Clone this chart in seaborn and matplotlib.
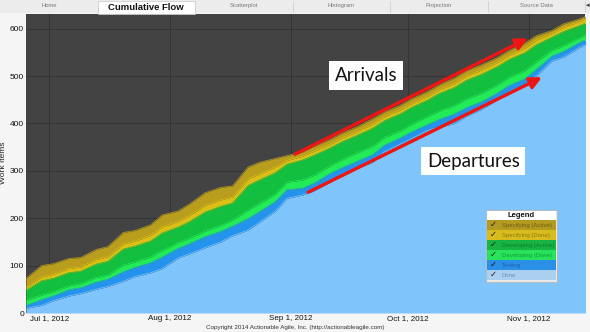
import numpy as np
import pandas as pd
import matplotlib
matplotlib.use("Agg")
import matplotlib.pyplot as plt
import matplotlib.dates as mdates
from matplotlib.patches import Rectangle
import seaborn as sns

# ---------------- data ----------------
dates = pd.to_datetime([
    "2012-06-25", "2012-06-29", "2012-07-02", "2012-07-06", "2012-07-09", "2012-07-13",
    "2012-07-16", "2012-07-20", "2012-07-23", "2012-07-27", "2012-07-30", "2012-08-03",
    "2012-08-06", "2012-08-10", "2012-08-14", "2012-08-17", "2012-08-21", "2012-08-24",
    "2012-08-28", "2012-08-31", "2012-09-04", "2012-09-07", "2012-09-11", "2012-09-14",
    "2012-09-18", "2012-09-22", "2012-09-25", "2012-09-29", "2012-10-02", "2012-10-06",
    "2012-10-09", "2012-10-13", "2012-10-16", "2012-10-20", "2012-10-24", "2012-10-27",
    "2012-10-31", "2012-11-03", "2012-11-07", "2012-11-10", "2012-11-14", "2012-11-16"])

done = [10, 16, 26, 36, 41, 50, 56, 67, 77, 85, 94, 116, 125, 138, 150, 163, 175, 192, 215, 242,
        249, 258, 276, 290, 305, 318, 340, 356, 368, 385, 392, 400, 415, 430, 450, 465, 480, 500,
        532, 540, 560, 568]
testing = [6, 12, 10, 13, 12, 15, 15, 20, 19, 21, 24, 20, 21, 23, 22, 20, 24, 22, 20, 18,
           14, 16, 18, 16, 15, 16, 14, 13, 14, 12, 16, 20, 18, 16, 14, 15, 14, 14, 10, 12, 10, 10]
dev_done = [10, 10, 9, 8, 9, 10, 9, 14, 12, 12, 14, 12, 12, 12, 13, 13, 18, 17, 16, 16,
            18, 17, 16, 17, 18, 18, 16, 15, 16, 17, 18, 18, 18, 18, 17, 17, 17, 16, 12, 12, 10, 10]
dev_active = [22, 30, 28, 28, 26, 28, 29, 34, 33, 34, 37, 33, 35, 40, 40, 36, 52, 50, 45, 38,
              42, 42, 38, 38, 37, 38, 36, 36, 36, 35, 37, 38, 40, 40, 39, 38, 38, 36, 28, 30, 26, 25]
spec_done = [6, 8, 9, 9, 9, 10, 10, 11, 11, 12, 13, 12, 13, 14, 14, 13, 14, 13, 12, 8,
             8, 9, 8, 8, 8, 9, 8, 8, 8, 8, 8, 9, 9, 9, 9, 9, 10, 10, 8, 9, 9, 10]
spec_active = [19, 24, 22, 21, 20, 21, 21, 24, 22, 22, 25, 22, 24, 27, 26, 23, 25, 24, 18, 10,
               9, 10, 10, 10, 10, 11, 10, 10, 10, 10, 10, 11, 11, 11, 10, 10, 10, 9, 6, 7, 5, 4]

states = ["Done", "Testing", "Developing (Done)", "Developing (Active)",
          "Specifying (Done)", "Specifying (Active)"]
colors = ["#80c4fc", "#2493ee", "#22ec55", "#12bf3e", "#dcbf14", "#b89e1c"]
legend_bg = ["#aacfef", "#2b8fe6", "#27e25a", "#17b444", "#d8bc1e", "#b39a20"]
legend_fg = ["#6f8fb0", "#1a64b0", "#10a032", "#0a7f28", "#8c7a10", "#6f600e"]

tabs = ["Home", "Cumulative Flow", "Scatterplot", "Histogram", "Projection", "Source Data"]

# ---------------- figure ----------------
W, H = 590, 332
sns.set_style("dark")
plt.rcParams["font.family"] = ["Liberation Sans", "DejaVu Sans"]
fig = plt.figure(figsize=(W / 100, H / 100), dpi=100, facecolor="#f5f5f5")


def fx(px):
    return px / W


def fy(py):
    return 1 - py / H


ax = fig.add_axes([fx(26), fy(313), fx(585) - fx(26), fy(13.5) - fy(313)])
ax.set_facecolor("#434343")

df = pd.DataFrame({"date": dates, "Done": done, "Testing": testing,
                   "Developing (Done)": dev_done, "Developing (Active)": dev_active,
                   "Specifying (Done)": spec_done, "Specifying (Active)": spec_active})
cum = df[states].cumsum(axis=1)
lower = np.zeros(len(df))
for st, c in zip(states, colors):
    upper = cum[st].values
    ax.fill_between(df["date"], lower, upper, color=c, lw=0, zorder=2)
    sns.lineplot(x=df["date"], y=upper, ax=ax, color=c, lw=0.5, zorder=3)
    lower = upper

ax.set_xlim(pd.Timestamp("2012-06-25"), pd.Timestamp("2012-11-15 12:00"))
ax.set_ylim(0, 632)
ax.set_yticks([0, 100, 200, 300, 400, 500, 600])
ax.xaxis.set_major_locator(mdates.MonthLocator(bymonth=[7, 8, 9, 10, 11]))
ax.xaxis.set_major_formatter(mdates.DateFormatter("%b %-d, %Y"))
ax.grid(False)
ax.grid(True, which="major", axis="both", color="#343434", lw=0.7, zorder=1)
ax.set_axisbelow(True)
ax.tick_params(axis="both", which="both", length=0, labelsize=6, colors="#111111")
ax.tick_params(axis="x", pad=1.5, labelsize=5.8)
ax.tick_params(axis="y", pad=1.5)
ax.set_xlabel("")
ax.set_ylabel("Work Items", fontsize=6, color="#222222")
ax.yaxis.set_label_coords(-0.034, 0.5)
for s in ax.spines.values():
    s.set_visible(False)

# annotations
ax.annotate("", xy=(0.898, 0.917), xytext=(0.481, 0.530), xycoords="axes fraction",
            arrowprops=dict(arrowstyle="-|>,head_length=0.7,head_width=0.35", color="#ee1515",
                            lw=2.4, shrinkA=0, shrinkB=0), zorder=6)
ax.annotate("", xy=(0.923, 0.787), xytext=(0.5045, 0.403), xycoords="axes fraction",
            arrowprops=dict(arrowstyle="-|>,head_length=0.7,head_width=0.35", color="#ee1515",
                            lw=2.4, shrinkA=0, shrinkB=0), zorder=6)
ax.text(0.608, 0.793, "Arrivals", transform=ax.transAxes, ha="center", va="center",
        fontsize=13.5, family=["Lato", "DejaVu Sans"], color="#111111", zorder=7,
        bbox=dict(boxstyle="square,pad=0.3", fc="white", ec="none"))
ax.text(0.800, 0.507, "Departures", transform=ax.transAxes, ha="center", va="center",
        fontsize=13.5, family=["Lato", "DejaVu Sans"], color="#111111", zorder=7,
        bbox=dict(boxstyle="square,pad=0.3", fc="white", ec="none"))

# legend drawn as a panel
lx0, lx1, ly0 = 487, 556, 211
fig.patches.append(Rectangle((fx(lx0 - 1), fy(282)), fx(lx1 + 1) - fx(lx0 - 1), fy(210) - fy(282),
                             transform=fig.transFigure, fc="#e8e8e8", ec="#b0b0b0", lw=0.5, zorder=8))
fig.patches.append(Rectangle((fx(lx0), fy(220)), fx(lx1) - fx(lx0), fy(ly0) - fy(220),
                             transform=fig.transFigure, fc="white", ec="none", zorder=9))
fig.text(fx((lx0 + lx1) / 2), fy(215.5), "Legend", ha="center", va="center",
         fontsize=5.5, fontweight="bold", color="#111111", zorder=10)
for k, (st, bg, fg) in enumerate(zip(states[::-1], legend_bg[::-1], legend_fg[::-1])):
    top = 220 + 10 * k
    fig.patches.append(Rectangle((fx(lx0), fy(top + 10)), fx(lx1) - fx(lx0), fy(top) - fy(top + 10),
                                 transform=fig.transFigure, fc=bg, ec="none", zorder=9))
    fig.text(fx(493), fy(top + 5.3), "\u2713", ha="center", va="center", fontsize=6,
             fontweight="bold", color="#1a1a1a", zorder=10)
    fig.text(fx(502), fy(top + 5.2), st, ha="left", va="center", fontsize=4.3,
             color=fg, zorder=10)

# tab strip
fig.patches.append(Rectangle((0, fy(12.5)), 1, fy(0) - fy(12.5), transform=fig.transFigure,
                             fc="#ececec", ec="none", zorder=1))
tab_w = 585 / len(tabs)
for k, t in enumerate(tabs):
    a, b = k * tab_w, (k + 1) * tab_w
    if k == 1:
        fig.patches.append(Rectangle((fx(a), fy(13.5)), fx(b) - fx(a), fy(1) - fy(13.5),
                                     transform=fig.transFigure, fc="white", ec="#c8c8c8",
                                     lw=0.5, zorder=2))
        fig.text(fx((a + b) / 2), fy(7), t, ha="center", va="center", fontsize=6.8,
                 fontweight="bold", color="#111111")
    else:
        fig.text(fx((a + b) / 2), fy(5.5), t, ha="center", va="center", fontsize=4.2,
                 color="#777777")
    fig.add_artist(plt.Line2D([fx(b), fx(b)], [fy(11.5), fy(1)], transform=fig.transFigure,
                              color="#c8c8c8", lw=0.5))
fig.text(fx(587.5), fy(5.5), "\u25c2", ha="center", va="center", fontsize=5, color="#333333")

fig.text(fx(295), fy(327.5), "Copyright 2014 Actionable Agile, Inc. (http://actionableagile.com)",
         ha="center", va="center", fontsize=4.5, color="#333333")

fig.savefig("out.png", dpi=100, facecolor=fig.get_facecolor())
